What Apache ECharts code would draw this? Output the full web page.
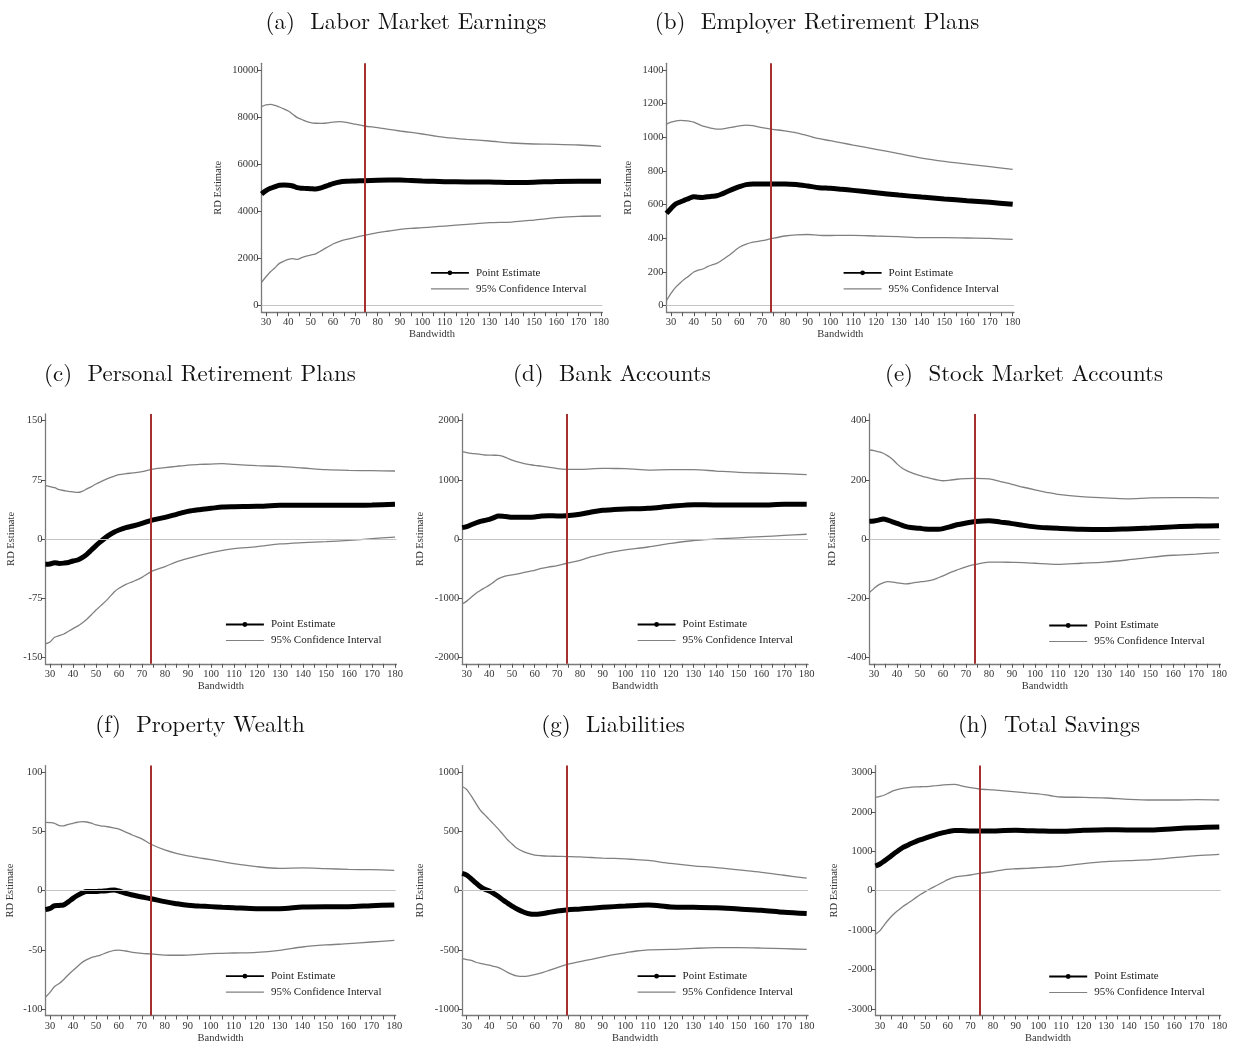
<!DOCTYPE html>
<html><head><meta charset="utf-8">
<script src="https://cdn.jsdelivr.net/npm/echarts@6/dist/echarts.min.js"></script>
<style>html,body{margin:0;padding:0;background:#fff}#c{width:1234px;height:1046px}</style>
</head><body><div id="c"></div>
<script>
// ---------- DATA ----------
const bandwidth = [28,30,32,34,36,38,40,42,44,46,48,50,52,55,58,60,63,66,70,74,80,85,90,95,100,105,110,120,130,140,150,160,170,180];
const xTicks = [30,35,40,45,50,55,60,65,70,75,80,85,90,95,100,105,110,115,120,125,130,135,140,145,150,155,160,165,170,175,180];
const xLabels = [30,40,50,60,70,80,90,100,110,120,130,140,150,160,170,180];
const optimalBandwidth = 74;

const titles = ['(a)  Labor Market Earnings','(b)  Employer Retirement Plans','(c)  Personal Retirement Plans','(d)  Bank Accounts','(e)  Stock Market Accounts','(f)  Property Wealth','(g)  Liabilities','(h)  Total Savings'];

const yTicksA = [0,2000,4000,6000,8000,10000];
const yTicksB = [0,200,400,600,800,1000,1200,1400];
const yTicksC = [-150,-75,0,75,150];
const yTicksD = [-2000,-1000,0,1000,2000];
const yTicksE = [-400,-200,0,200,400];
const yTicksF = [-100,-50,0,50,100];
const yTicksG = [-1000,-500,0,500,1000];
const yTicksH = [-3000,-2000,-1000,0,1000,2000,3000];

const pointA = [4738,4880,4980,5050,5110,5120,5115,5078,5007,4985,4975,4965,4950,5010,5110,5180,5250,5276,5290,5304,5325,5332,5330,5310,5290,5275,5262,5250,5247,5225,5240,5270,5276,5276];
const upperA = [8444,8520,8540,8500,8430,8350,8260,8120,7980,7900,7820,7765,7740,7737,7760,7790,7808,7780,7700,7624,7553,7480,7412,7350,7284,7210,7143,7058,6987,6902,6860,6846,6818,6761];
const lowerA = [990,1230,1440,1610,1796,1890,1966,1994,1966,2040,2100,2150,2192,2350,2510,2617,2730,2810,2900,2984,3098,3170,3239,3280,3310,3345,3380,3451,3522,3550,3635,3734,3791,3805];

const pointB = [548,578,604,616,627,638,647,644,643,647,650,653,662,680,697,707,719,723,723,723,723,720,711,701,697,691,685,671,657,645,634,624,614,602];
const upperB = [1079,1090,1097,1101,1099,1096,1091,1078,1067,1060,1053,1049,1049,1056,1063,1068,1073,1069,1058,1049,1038,1027,1010,992,980,967,954,929,903,877,857,841,826,810];
const lowerB = [30,73,109,135,158,178,200,212,218,232,242,251,267,295,327,347,366,378,386,398,414,421,423,418,417,418,418,414,410,404,404,402,400,394];

const pointC = [-32,-31.7,-30,-31,-30.6,-29.8,-27.9,-26.6,-23.7,-19.4,-13.9,-8.4,-3.4,3.6,8.9,11.4,14.4,16.5,19.9,23.7,27.5,31.3,35,37.2,38.9,40.6,41,41.4,42.7,42.7,42.7,42.7,43.1,44];
const upperC = [67.6,66.5,65,62.5,61.5,60.4,59.8,59,60.5,63.5,66.5,69.7,72.5,76.5,79.8,81.5,82.8,83.8,85.3,88.3,90.4,92.2,93.8,94.5,95,95.5,94.6,93,92,90,87.9,87,86.6,86.2];
const lowerC = [-133,-130.5,-124.6,-122.5,-120.5,-117,-113.6,-110.5,-106.5,-101.8,-96,-90,-84.8,-76.5,-66.8,-62.5,-57.5,-54,-48.6,-41.4,-35,-29,-24.5,-20.7,-17.3,-14.4,-12.3,-9.7,-6.3,-4.6,-3.4,-1.7,0.4,2.5];

const pointD = [192,208,240,270,299,315,332,360,389,385,375,366,366,366,369,372,390,393,389,394,417,456,485,498,507,512,518,552,580,575,575,575,586,586];
const upperD = [1476,1460,1448,1440,1432,1420,1418,1416,1414,1395,1365,1335,1310,1279,1258,1245,1232,1215,1189,1178,1178,1186,1194,1192,1189,1178,1166,1172,1172,1149,1127,1116,1104,1087];
const lowerD = [-1100,-1050,-985,-920,-870,-825,-780,-725,-670,-640,-620,-607,-595,-568,-545,-530,-498,-475,-450,-410,-360,-300,-255,-215,-185,-160,-135,-75,-25,0,20,40,60,80];

const pointE = [60,61,64,68,64,58,53,47,42,39,37,36,34,33,33,35,41,48,54,59,62,57,52,46,41,38,36,33,32,34,37,41,44,45];
const upperE = [301,299,295,290,281,270,254,241,232,225,219,214,210,204,199,197,199,202,204,205,203,194,185,175,166,158,151,143,139,136,139,140,140,139];
const lowerE = [-181,-167,-155,-148,-144,-146,-148,-150,-152,-150,-147,-145,-143,-139,-131,-125,-114,-105,-94,-86,-78,-78,-79,-80,-82,-84,-86,-82,-78,-71,-62,-55,-51,-46];

const pointF = [-16,-15,-12.7,-12.5,-12,-9.5,-6.5,-4,-2,-0.8,-0.8,-0.8,-0.4,0,0.6,-0.3,-2.3,-3.7,-5.4,-6.8,-9.3,-11,-12.4,-13,-13.5,-14,-14.4,-15.2,-15.2,-13.8,-13.5,-13.5,-12.7,-12.1];
const upperF = [57.7,57.5,56.9,55,54.8,56,56.9,57.8,58.3,58,57,55.5,54.8,54,52.8,52,49.5,46.8,43.7,39.2,34.4,31.5,29.3,27.7,26.2,24.5,22.8,20.3,18.9,19.2,18.6,18,17.7,17.2];
const lowerF = [-90,-86,-81,-78.5,-75,-71,-67.5,-64,-60.6,-58.3,-56.6,-55.5,-54.4,-52.2,-50.5,-50.3,-51,-52.1,-53,-53.5,-54.4,-54.6,-54.4,-53.8,-53.2,-53,-52.7,-52.1,-50.4,-47.6,-45.9,-44.8,-43.4,-42];

const pointG = [146,132,100,66,34,11,-3,-25,-50,-79,-105,-130,-153,-180,-198,-200,-195,-185,-172,-163,-155,-148,-141,-135,-130,-125,-121,-138,-141,-144,-155,-166,-183,-194];
const upperG = [880,855,800,740,680,640,600,560,520,475,430,395,360,330,310,300,295,292,290,288,285,280,275,272,268,262,255,230,210,195,175,155,130,105];
const lowerG = [-575,-583,-590,-605,-615,-622,-630,-640,-650,-668,-690,-707,-720,-725,-718,-710,-695,-675,-650,-625,-600,-580,-560,-540,-525,-510,-500,-497,-488,-482,-482,-485,-490,-497];

const pointH = [625,676,755,840,930,1010,1090,1145,1200,1250,1293,1330,1369,1425,1470,1496,1525,1525,1513,1513,1513,1525,1530,1520,1513,1508,1504,1530,1546,1538,1538,1572,1597,1614];
const upperH = [2366,2390,2425,2480,2535,2570,2594,2610,2624,2630,2634,2636,2645,2662,2680,2690,2696,2655,2611,2577,2552,2530,2505,2476,2451,2412,2374,2366,2349,2315,2298,2298,2307,2298];
const lowerH = [-1107,-1014,-860,-720,-600,-500,-406,-330,-254,-170,-93,-25,42,130,220,279,340,370,397,439,482,535,555,566,583,600,617,684,735,760,786,837,887,921];

// ---------- LAYOUT ----------
const panels = [
  {p:pointA,u:upperA,l:lowerA,ticks:yTicksA,p30:266,p180:601,row:0,nameGap:37.8,tx:406,lx:430,ly:272.3},
  {p:pointB,u:upperB,l:lowerB,ticks:yTicksB,p30:671,p180:1012.7,row:0,nameGap:32.2,tx:817,lx:842.7,ly:272.3},
  {p:pointC,u:upperC,l:lowerC,ticks:yTicksC,p30:50,p180:395,row:1,nameGap:28.5,tx:200,lx:225,ly:624},
  {p:pointD,u:upperD,l:lowerD,ticks:yTicksD,p30:466.7,p180:806.7,row:1,nameGap:36.8,tx:612,lx:636.7,ly:624},
  {p:pointE,u:upperE,l:lowerE,ticks:yTicksE,p30:874,p180:1219,row:1,nameGap:31.5,tx:1024,lx:1048.3,ly:625},
  {p:pointF,u:upperF,l:lowerF,ticks:yTicksF,p30:50,p180:394.3,row:2,nameGap:29.5,tx:200,lx:225,ly:975.7},
  {p:pointG,u:upperG,l:lowerG,ticks:yTicksG,p30:466.7,p180:806.7,row:2,nameGap:36.8,tx:613,lx:636.7,ly:975.7},
  {p:pointH,u:upperH,l:lowerH,ticks:yTicksH,p30:880,p180:1219.3,row:2,nameGap:36.2,tx:1049,lx:1048.3,ly:976}
];
const rows = [{top:70,bot:305.7,title:22},{top:420.7,bot:657.3,title:374},{top:772.3,bot:1009,title:725}];

const serif = '"Liberation Serif","Times New Roman",serif';
const titleFont = '"Latin Modern Roman","CMU Serif","DejaVu Serif",serif';
const axisGray = '#7a7a7a';

const grids=[],xAxes=[],yAxes=[],series=[],legends=[],graphics=[];
panels.forEach((pn,i)=>{
  const r = rows[pn.row];
  const s = (pn.p180-pn.p30)/150;
  const xMin=28, xMax=180.6;
  const topV = pn.ticks[pn.ticks.length-1], botV = pn.ticks[0];
  const perPx = (topV-botV)/(r.bot-r.top);
  const extT=6.7, extB=6.5;
  grids.push({left:pn.p30-(30-xMin)*s, width:(xMax-xMin)*s, top:r.top-extT, height:(r.bot-r.top)+extT+extB});
  xAxes.push({type:'value',gridIndex:i,min:xMin,max:xMax,
    axisLine:{show:true,onZero:false,lineStyle:{color:axisGray,width:1.3}},
    axisTick:{show:true,length:4,customValues:xTicks,lineStyle:{color:'#555',width:1}},
    axisLabel:{customValues:xLabels,fontFamily:serif,fontSize:10.5,color:'#333',margin:5,formatter:v=>String(v)},
    splitLine:{show:false},
    name:'Bandwidth',nameLocation:'middle',nameGap:17,nameTextStyle:{fontFamily:serif,fontSize:10.5,color:'#333'}});
  yAxes.push({type:'value',gridIndex:i,min:botV-extB*perPx,max:topV+extT*perPx,
    axisLine:{show:true,onZero:false,lineStyle:{color:axisGray,width:1.3}},
    axisTick:{show:true,length:4,customValues:pn.ticks,lineStyle:{color:'#555',width:1}},
    axisLabel:{customValues:pn.ticks,fontFamily:serif,fontSize:10.5,color:'#333',margin:3,formatter:v=>String(v)},
    splitLine:{show:false},
    name:'RD Estimate',nameLocation:'middle',nameGap:pn.nameGap,nameRotate:90,nameTextStyle:{fontFamily:serif,fontSize:10.5,color:'#333'}});
  const zip = arr => bandwidth.map((b,k)=>[b,arr[k]]);
  series.push({type:'line',name:'95% Confidence Interval',xAxisIndex:i,yAxisIndex:i,data:zip(pn.l),smooth:0.3,
    symbol:'none',lineStyle:{color:'#808080',width:1.3},itemStyle:{color:'#808080'},z:2,silent:true,
    markLine:{silent:true,symbol:'none',label:{show:false},lineStyle:{color:'#c4c4c4',width:1,type:'solid'},data:[{yAxis:0}],animation:false}});
  series.push({type:'line',name:'95% Confidence Interval',xAxisIndex:i,yAxisIndex:i,data:zip(pn.u),smooth:0.3,
    symbol:'none',lineStyle:{color:'#808080',width:1.3},itemStyle:{color:'#808080'},z:2,silent:true});
  series.push({type:'line',name:'Point Estimate',xAxisIndex:i,yAxisIndex:i,data:zip(pn.p),smooth:0.3,
    symbol:'circle',symbolSize:6,showSymbol:false,lineStyle:{color:'#000',width:5},itemStyle:{color:'#000'},z:4,silent:true,
    markLine:{silent:true,symbol:'none',label:{show:false},lineStyle:{color:'#a5302f',width:2,type:'solid'},data:[{xAxis:optimalBandwidth}],animation:false}});
  legends.push({orient:'vertical',left:pn.lx,top:pn.ly-5,itemWidth:38,itemHeight:6,itemGap:5,selectedMode:false,padding:0,
    textStyle:{fontFamily:serif,fontSize:11,color:'#222',padding:[0,0,0,2]},
    data:[
      {name:'Point Estimate',lineStyle:{width:1.8,color:'#000'},itemStyle:{color:'#000'}},
      {name:'95% Confidence Interval',lineStyle:{width:1.2,color:'#808080'},itemStyle:{opacity:0,color:'rgba(0,0,0,0)'}}
    ]});
  graphics.push({type:'text',x:pn.tx,y:r.title,style:{text:titles[i],font:'23px '+titleFont,fill:'#111',align:'center',verticalAlign:'middle'}});
});

const chart = echarts.init(document.getElementById('c'),null,{renderer:'canvas'});
chart.setOption({animation:false,backgroundColor:'#fff',grid:grids,xAxis:xAxes,yAxis:yAxes,series:series,legend:legends,graphic:graphics});
</script></body></html>
